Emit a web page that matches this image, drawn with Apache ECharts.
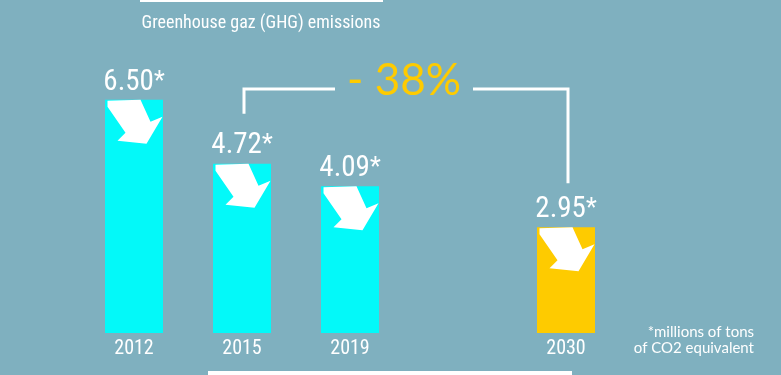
<!DOCTYPE html>
<html>
<head>
<meta charset="utf-8">
<script src="https://cdn.jsdelivr.net/npm/echarts@6/dist/echarts.min.js"></script>
<style>
  html, body { margin: 0; padding: 0; background: #7fb0bf; }
  #mainChart { width: 781px; height: 375px; }
</style>
</head>
<body>
<div id="mainChart"></div>
<script>
// GHG emissions, millions of tons CO2 eq.
var years = ['2012', '2015', '2019', '', '2030'];
var emissions = [6.50, 4.72, 4.09, null, 2.95];
var targetYear = '2030';
var refYear = '2015';

var narrow = '"Roboto Condensed", "DejaVu Sans Condensed", sans-serif';
// arrow drawn inside the top of each bar
var arrowPath = 'path://M2,1 L35,0 L45,22 L57,17 L41,44 L12,41 L20,33 L2,7 Z';

var myChart = echarts.init(document.getElementById('mainChart'));

var option = {
    backgroundColor: '#7fb0bf',
    animation: false,
    grid: {
        left: 80,
        right: 161,
        top: 64,
        bottom: 42
    },
    xAxis: {
        type: 'category',
        data: years,
        axisLine: { show: false },
        axisTick: { show: false },
        axisLabel: { color: '#ffffff', fontFamily: narrow, fontSize: 20, margin: 6 }
    },
    yAxis: {
        type: 'value',
        min: 0,
        max: 7.5,
        show: false,
        splitLine: { show: false }
    },
    series: [{
        type: 'bar',
        data: emissions,
        barWidth: 58,
        itemStyle: {
            color: function (p) {
                return years[p.dataIndex] === targetYear ? '#fecb00' : '#03f9f9';
            }
        },
        label: {
            show: true,
            position: 'top',
            distance: 3,
            formatter: function (p) {
                return '{v|' + p.value.toFixed(2) + '}{s|*}';
            },
            rich: {
                v: { color: '#ffffff', fontFamily: narrow, fontSize: 29 },
                s: { color: '#ffffff', fontFamily: narrow, fontSize: 25 }
            }
        }
    }, {
        type: 'pictorialBar',
        data: emissions,
        barWidth: 58,
        barGap: '-100%',
        symbol: arrowPath,
        symbolSize: [55, 44],
        symbolPosition: 'end',
        symbolOffset: [1, 0],
        itemStyle: { color: '#ffffff' },
        z: 5
    }]
};
myChart.setOption(option);

// bracket between 2015 and 2030 with the change in %
var iRef = years.indexOf(refYear);
var iTgt = years.indexOf(targetYear);
var pRef = myChart.convertToPixel({ gridIndex: 0 }, [iRef, emissions[iRef]]);
var pTgt = myChart.convertToPixel({ gridIndex: 0 }, [iTgt, emissions[iTgt]]);
var ratio = Math.abs(emissions[iTgt] - emissions[iRef]) / emissions[iRef] * 100;
var change = Math.round(Math.round(ratio * 1000) / 1000);
var bracketY = 89;
var midX = (pRef[0] + pTgt[0]) / 2;
var lineStyle = { stroke: '#ffffff', lineWidth: 3, fill: null };

myChart.setOption({
    graphic: [{
        type: 'text',
        x: 261,
        y: 23,
        style: {
            text: 'Greenhouse gaz (GHG) emissions',
            fill: '#ffffff',
            font: '18px "Roboto Condensed", sans-serif',
            align: 'center',
            verticalAlign: 'middle'
        }
    }, {
        type: 'text',
        x: 754,
        y: 340,
        style: {
            text: '*millions of tons\nof CO2 equivalent',
            fill: '#ffffff',
            font: '15px Lato, sans-serif',
            lineHeight: 16,
            align: 'right',
            verticalAlign: 'middle'
        }
    }, {
        type: 'polyline',
        shape: { points: [[pRef[0] + 2, pRef[1] - 50], [pRef[0] + 2, bracketY], [midX - 69, bracketY]] },
        style: lineStyle
    }, {
        type: 'polyline',
        shape: { points: [[midX + 69, bracketY], [pTgt[0] + 2, bracketY], [pTgt[0] + 2, pTgt[1] - 44]] },
        style: lineStyle
    }, {
        type: 'text',
        x: midX,
        y: 81,
        style: {
            text: '- ' + change + '%',
            fill: '#fecb00',
            font: '44px Lato, sans-serif',
            align: 'center',
            verticalAlign: 'middle'
        }
    }, {
        type: 'rect',
        shape: { x: 140, y: 0, width: 243, height: 2 },
        style: { fill: '#ffffff' }
    }, {
        type: 'rect',
        shape: { x: 208, y: 371, width: 364, height: 4 },
        style: { fill: '#ffffff' }
    }]
});
</script>
</body>
</html>
